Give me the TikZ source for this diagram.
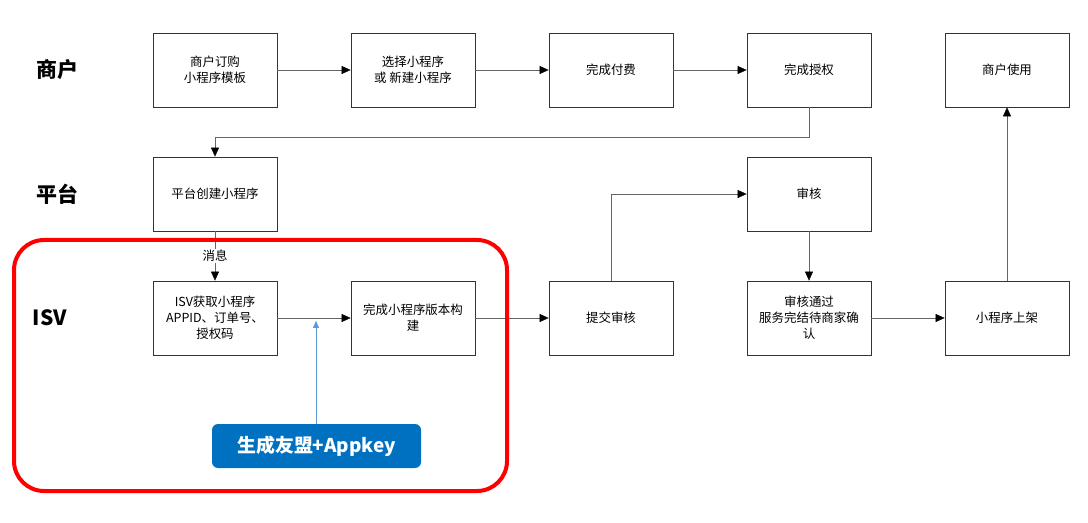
\documentclass[tikz,border=0pt]{standalone}
\usepackage{fontspec}
\setmainfont{Noto Sans CJK SC}
\usetikzlibrary{arrows.meta}
\definecolor{btnblue}{HTML}{0070C0}
\definecolor{arrblue}{HTML}{5B9BD5}
\tikzset{
  stage/.style={draw=black!80,thick,minimum width=124bp,minimum height=74bp,align=center,font=\fontsize{12.5}{16}\selectfont,inner sep=1pt},
  lane/.style={font=\fontsize{21}{23}\selectfont\bfseries},
  flow/.style={draw=black!60,-{Triangle[length=9bp,width=8bp,color=black]}}
}
\begin{document}
\begin{tikzpicture}[x=1bp,y=-1bp]
\useasboundingbox (0,0) rectangle (1088,523);
\node[lane] (shanghu) at (57,70) {商户};
\node[lane] (pingtai) at (57,194) {平台};
\node[lane] (isv) at (50,318) {ISV};

\begin{scope}[every node/.style={stage}]
\node (dinggou) at (215,70) {商户订购\\小程序模板};
\node (xuanze) at (413,70) {选择小程序\\或 新建小程序};
\node (fufei) at (611,70) {完成付费};
\node (shouquan) at (809,70) {完成授权};
\node (shiyong) at (1007,70) {商户使用};
\node (chuangjian) at (215,194) {平台创建小程序};
\node (shenhe) at (809,194) {审核};
\node (huoqu) at (215,318) {ISV获取小程序\\APPID、订单号、\\授权码};
\node (goujian) at (413,318) {完成小程序版本构\\建};
\node (tijiao) at (611,318) {提交审核};
\node (tongguo) at (809,318) {审核通过\\服务完结待商家确\\认};
\node (shangjia) at (1007,318) {小程序上架};
\end{scope}

\draw[flow] (dinggou) -- (xuanze);
\draw[flow] (xuanze) -- (fufei);
\draw[flow] (fufei) -- (shouquan);
\draw[flow] (shouquan.south) |- (215,137) -- (chuangjian.north);
\draw[flow] (chuangjian) -- node[fill=white,inner sep=1pt,font=\fontsize{12.5}{14}\selectfont]{消息} (huoqu);
\draw[flow] (huoqu) -- (goujian);
\draw[flow] (goujian) -- (tijiao);
\draw[flow] (tijiao.north) |- (shenhe.west);
\draw[flow] (shenhe) -- (tongguo);
\draw[flow] (tongguo) -- (shangjia);
\draw[flow] (shangjia) -- (shiyong);

\draw[red,line width=4bp,rounded corners=30bp] (14,240) rectangle (507,491);
\node[fill=btnblue,rounded corners=6bp,minimum width=209bp,minimum height=44bp,text=white,font=\fontsize{19}{21}\selectfont\bfseries] (youmeng) at (316.5,446) {生成友盟+Appkey};
\coordinate (mid) at (316,321);
\draw[arrblue,-{Triangle[length=7bp,width=6bp]}] (youmeng.north -| mid) -- (mid);
\end{tikzpicture}
\end{document}
